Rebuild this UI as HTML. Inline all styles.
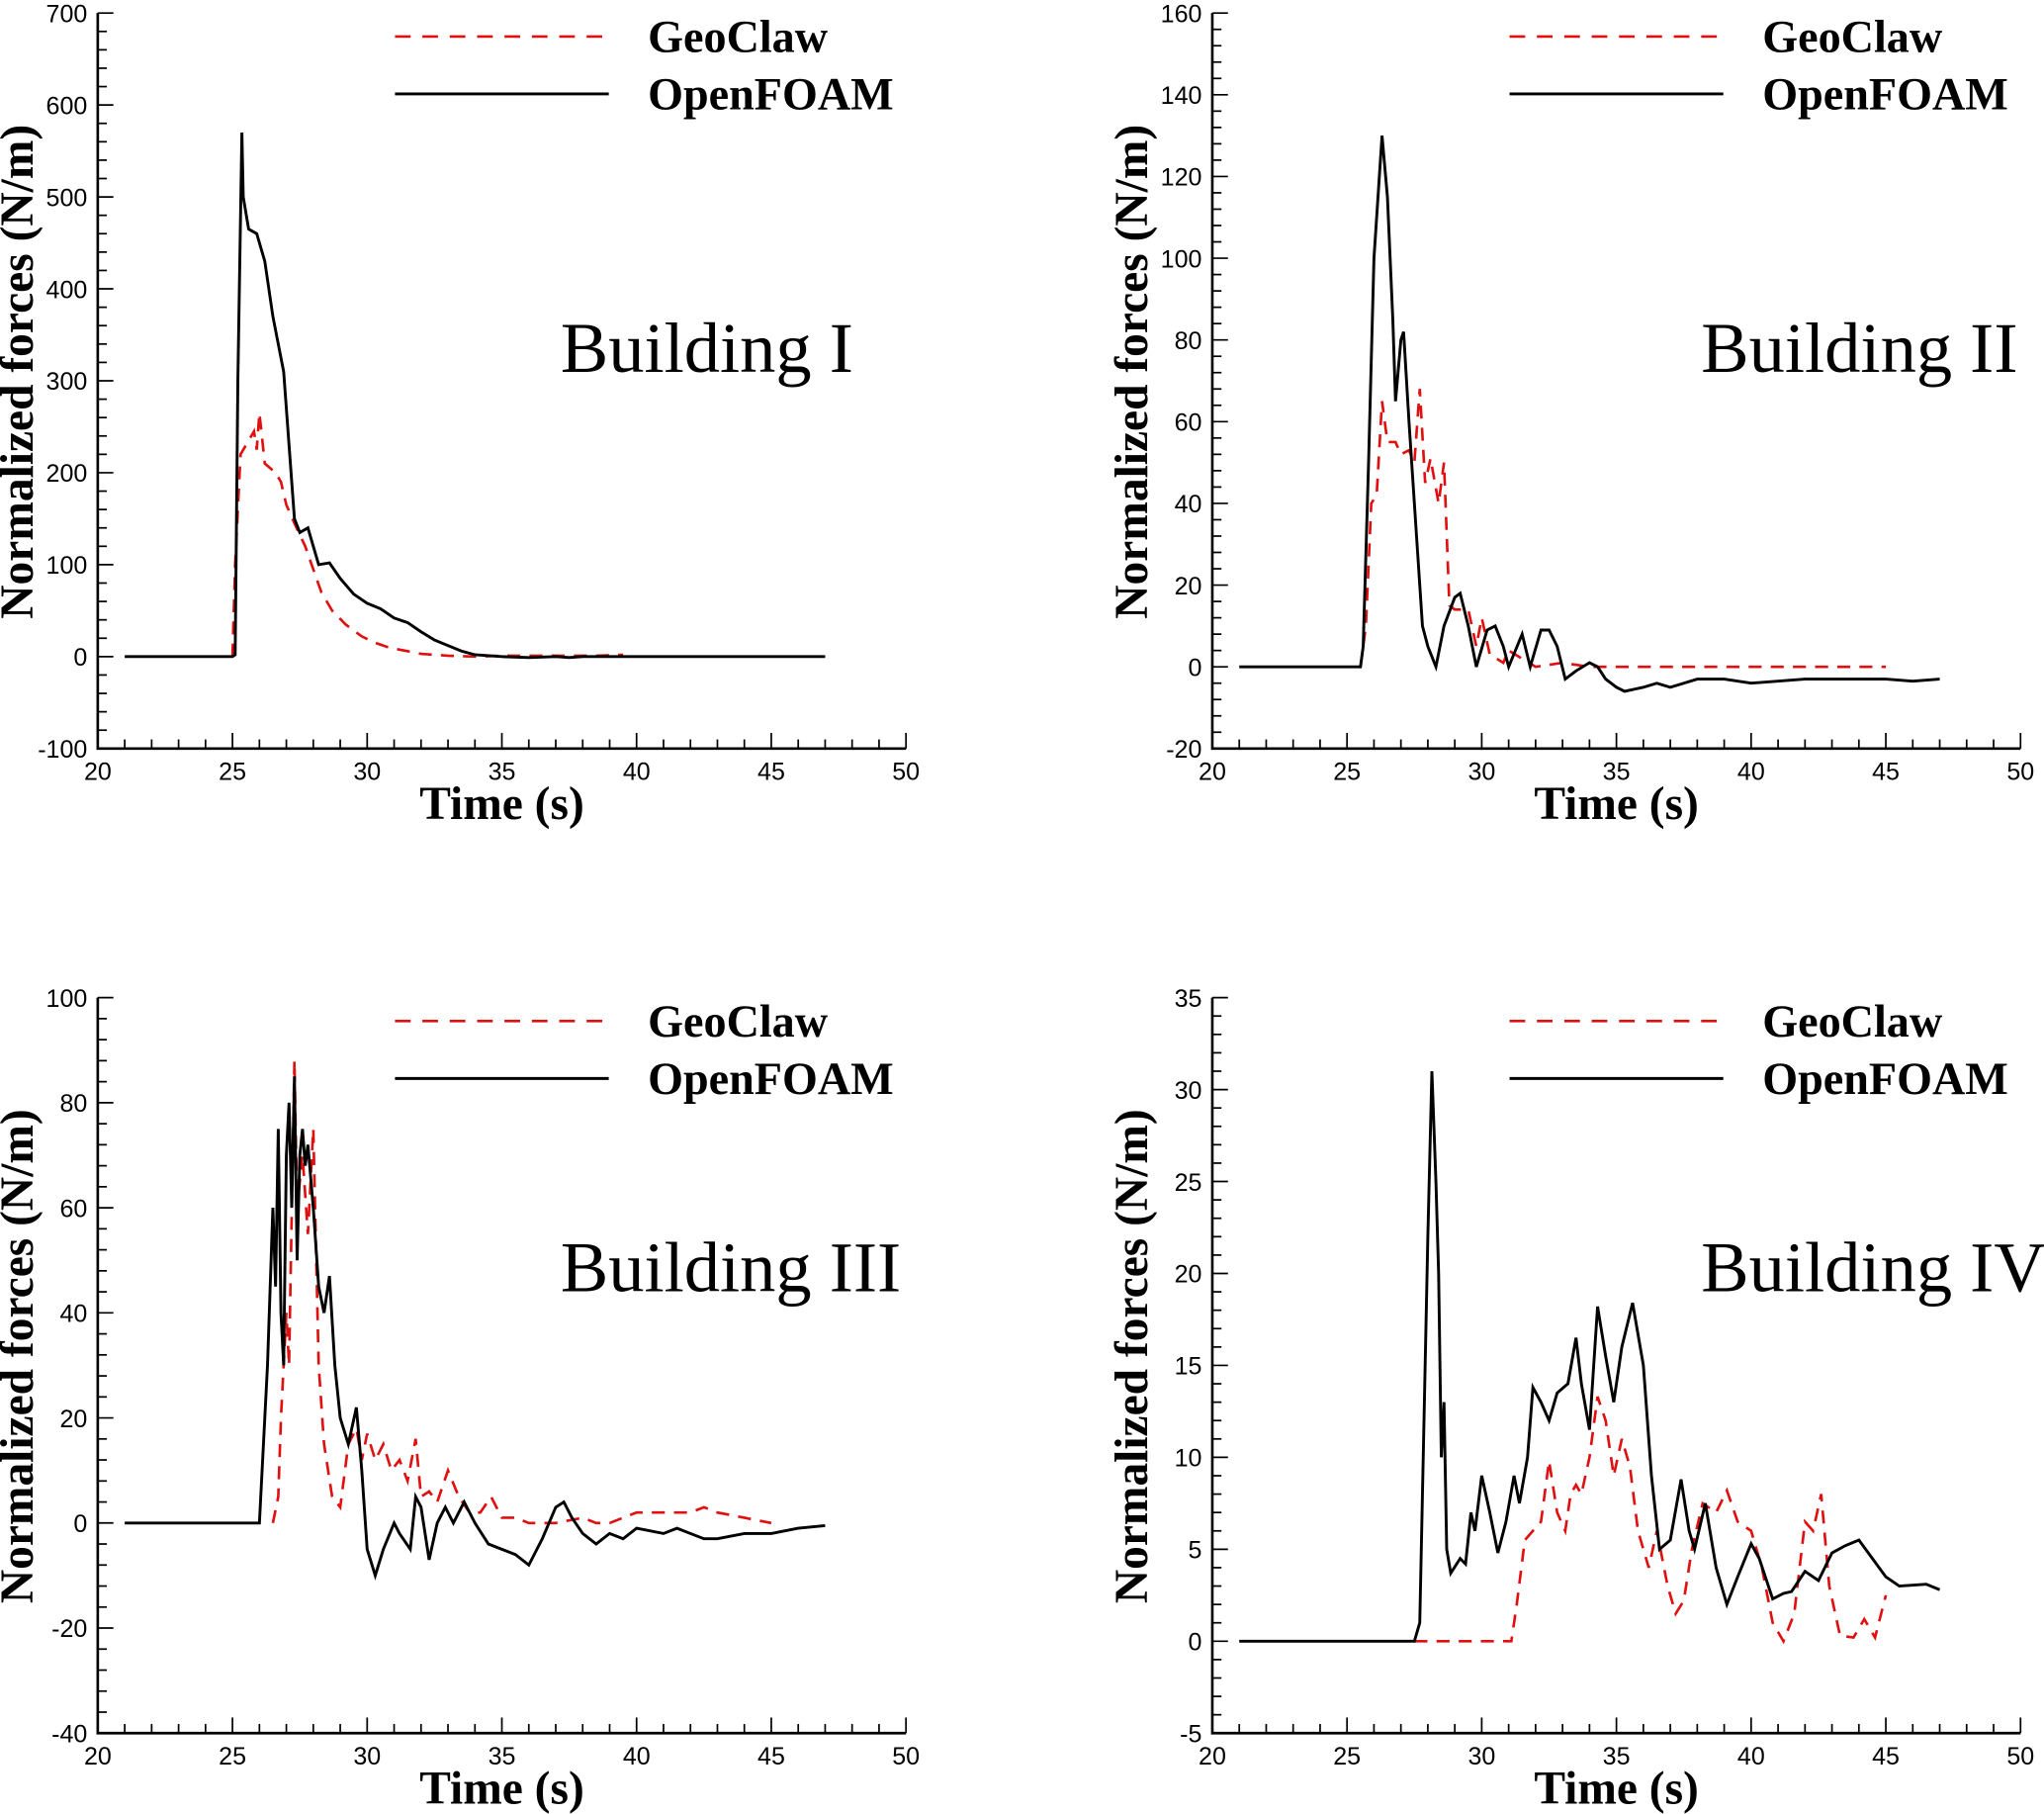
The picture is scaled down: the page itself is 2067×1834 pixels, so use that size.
<!DOCTYPE html>
<html><head><meta charset="utf-8"><style>
html,body{margin:0;padding:0;background:#fff;}
svg{display:block;}
.tk{font-family:"Liberation Sans",Arial,sans-serif;font-size:19px;fill:#000;}
.ttl{font-family:"Liberation Serif",serif;font-weight:bold;font-size:36px;fill:#000;}
.lg{font-family:"Liberation Serif",serif;font-weight:bold;font-size:35px;fill:#000;}
.bl{font-family:"Liberation Serif",serif;font-size:55px;fill:#000;}
</style></head><body>
<svg id="chart" width="2067" height="1834" viewBox="0 0 1568 1391" preserveAspectRatio="none" xmlns="http://www.w3.org/2000/svg"></svg>
<script>
// Panel data arrays
const p1Title = "Building I";
const p1Ticks = [-100,0,100,200,300,400,500,600,700];
const p1OfT = [21,25,25.1,25.2,25.35,25.4,25.6,25.9,26.2,26.5,26.9,27.3,27.5,27.8,28,28.2,28.6,29,29.5,30,30.5,31,31.5,32,32.5,33,33.5,34,35,36,37,37.5,38,47];
const p1OfV = [0,0,2,300,570,500,465,460,430,370,310,150,135,140,120,100,102,85,68,58,52,42,37,27,18,12,6,2,0,-1,0,-1,0,0];
const p1GcT = [25,25.1,25.3,25.5,25.8,25.9,26,26.2,26.4,26.6,26.8,27,27.3,27.7,28,28.3,28.7,29.2,29.8,30.3,30.8,31.3,32,33,34,35,37,38.5,39.5];
const p1GcV = [0,100,220,230,245,225,265,210,205,200,190,165,145,120,95,70,50,35,22,15,10,7,3,1,0,1,1,1,2];

const p2Title = "Building II";
const p2Ticks = [-20,0,20,40,60,80,100,120,140,160];
const p2OfT = [21,25.5,25.6,25.8,26,26.3,26.5,26.7,26.8,27,27.1,27.3,27.6,27.8,28,28.3,28.6,29,29.2,29.5,29.8,30.2,30.5,30.8,31,31.5,31.8,32.2,32.5,32.8,33.1,33.5,34,34.3,34.6,35,35.3,36,36.5,37,37.5,38,39,40,42,45,46,47];
const p2OfV = [0,0,5,50,100,130,115,85,65,80,82,60,30,10,5,0,10,17,18,10,0,9,10,5,0,8,0,9,9,5,-3,-1,1,0,-3,-5,-6,-5,-4,-5,-4,-3,-3,-4,-3,-3,-3.5,-3];
const p2GcT = [25.5,25.7,25.9,26.1,26.3,26.5,26.8,27,27.3,27.5,27.7,27.9,28.1,28.4,28.6,28.8,29,29.5,29.8,30,30.3,30.8,31,31.5,32,33,34,45];
const p2GcV = [0,10,40,42,65,55,55,52,53,50,68,45,51,40,50,15,14,14,5,12,3,1,4,2,0,1,0,0];

const p3Title = "Building III";
const p3Ticks = [-40,-20,0,20,40,60,80,100];
const p3OfT = [21,26,26.3,26.5,26.6,26.7,26.8,26.9,27,27.1,27.2,27.3,27.4,27.5,27.6,27.7,27.8,28,28.2,28.4,28.6,28.8,29,29.3,29.6,29.8,30,30.3,30.6,31,31.2,31.6,31.8,32,32.3,32.6,32.9,33.2,33.6,34,34.5,35,35.5,36,36.5,37,37.3,37.6,38,38.5,39,39.5,40,41,41.5,42,42.5,43,44,45,46,47];
const p3OfV = [0,0,30,60,45,75,40,30,70,80,60,85,50,70,75,68,72,60,45,40,47,30,20,15,22,10,-5,-10,-5,0,-2,-5,5,3,-7,0,3,0,4,0,-4,-5,-6,-8,-3,3,4,1,-2,-4,-2,-3,-1,-2,-1,-2,-3,-3,-2,-2,-1,-0.5];
const p3GcT = [26.5,26.7,26.8,27,27.1,27.3,27.4,27.6,27.8,28,28.2,28.4,28.7,29,29.3,29.6,29.8,30,30.3,30.6,30.9,31.2,31.5,31.8,32,32.3,32.6,33,33.4,33.8,34.2,34.6,35,35.5,36,37,38,38.5,39,40,41,42,42.5,43,44,45];
const p3GcV = [0,5,20,40,30,88,60,70,55,75,30,15,5,3,15,18,12,17,12,15,10,12,8,16,5,6,4,10,5,2,2,5,1,1,0,0,1,0,0,2,2,2,3,2,1,0];

const p4Title = "Building IV";
const p4Ticks = [-5,0,5,10,15,20,25,30,35];
const p4OfT = [21,27.5,27.7,27.9,28,28.15,28.3,28.4,28.5,28.6,28.7,28.85,29.2,29.4,29.6,29.75,30,30.3,30.6,30.9,31.2,31.4,31.7,31.9,32.2,32.5,32.8,33.2,33.5,33.7,34,34.3,34.6,34.9,35.2,35.6,36,36.3,36.6,37,37.4,37.7,37.9,38.3,38.7,39.1,39.5,40,40.3,40.8,41.2,41.5,42,42.5,43,43.5,44,44.5,45,45.5,46.5,47];
const p4OfV = [0,0,1,15,22,31,25,20,10,13,5,3.7,4.5,4.2,7,6,9,7,4.8,6.5,9,7.5,10,13.8,13,12,13.5,14,16.5,14,11.5,18.2,15.5,13,16,18.4,15,9,5,5.5,8.8,6,5,7.5,4,2,3.5,5.3,4.5,2.3,2.6,2.7,3.8,3.3,4.8,5.2,5.5,4.5,3.5,3,3.1,2.8];
const p4GcT = [27.5,31.1,31.3,31.6,31.9,32.2,32.5,32.8,33.1,33.3,33.5,33.7,34,34.3,34.6,34.9,35.2,35.5,35.8,36.2,36.5,36.9,37.2,37.5,37.8,38.2,38.7,39.1,39.5,40,40.4,40.8,41.2,41.6,42,42.3,42.6,42.9,43.3,43.8,44.2,44.6,45];
const p4GcV = [0,0,2,5.5,6,6.5,9.8,7,6,8,8.5,8,10,13.3,12,9,11,9.5,6,4,6,3,1.5,2.2,5,7.5,7,8.2,6.5,6,4,1,0,1.5,6.5,6,8,3,0.3,0.2,1.2,0.2,2.5];

const xTicks = [20,25,30,35,40,45,50];

const NS="http://www.w3.org/2000/svg";
const svg=document.getElementById('chart');
function mk(tag,attrs,parent){const e=document.createElementNS(NS,tag);for(const k in attrs)e.setAttribute(k,attrs[k]);(parent||svg).appendChild(e);return e;}

function panel(ox,oy,ticks,title,ofT,ofV,gcT,gcV,idx,lx,ly){
  const L=ox+75,R=ox+695,T=oy+10,B=oy+574;
  const ymin=ticks[0],ymax=ticks[ticks.length-1];
  const xs=t=>L+(t-20)/30*(R-L);
  const ys=v=>B-(v-ymin)/(ymax-ymin)*(B-T);
  const g=mk('g',{});
  
  
  const ax=mk('path',{d:`M${L},${T}L${L},${B}L${R},${B}`,stroke:'#000','stroke-width':2,fill:'none'},g);
  
  
  for(let t=20;t<=50;t++){
    const maj=(t%5===0);
    mk('line',{x1:xs(t),x2:xs(t),y1:B,y2:B-(maj?12:7),stroke:'#000','stroke-width':1.3},g);
  }
  xTicks.forEach(t=>{
    const tx=mk('text',{x:xs(t),y:B+24,'text-anchor':'middle',class:'tk'},g);
    tx.textContent=t;
    
    
  });
  const step=ticks[1]-ticks[0];
  for(let i=0;i<ticks.length;i++){
    const v=ticks[i];
    mk('line',{x1:L,x2:L+12,y1:ys(v),y2:ys(v),stroke:'#000','stroke-width':1.3},g);
    if(i<ticks.length-1)for(let k=1;k<5;k++){const vv=v+step*k/5;mk('line',{x1:L,x2:L+7,y1:ys(vv),y2:ys(vv),stroke:'#000','stroke-width':1.3},g);}
    const tx=mk('text',{x:L-8,y:ys(v)+7,'text-anchor':'end',class:'tk'},g);
    tx.textContent=v;
    
    
  }
  const xt=mk('text',{x:ox+385,y:oy+628,'text-anchor':'middle',class:'ttl'},g);
  xt.textContent='Time (s)';
  
  
  const yt=mk('text',{x:0,y:0,'text-anchor':'middle',class:'ttl',transform:`translate(${ox+25},${oy+285}) rotate(-90)`,'xml:space':'preserve'},g);
  yt.textContent='Normalized  forces  (N/m)';
  
  
  const bt=mk('text',{x:lx,y:ly,class:'bl'},g);
  bt.textContent=title;
  
  
  const gc=mk('polyline',{points:gcT.map((t,i)=>xs(t)+','+ys(gcV[i])).join(' '),fill:'none',stroke:'#e01010','stroke-width':2,'stroke-dasharray':'10,7'},g);
  
  
  const of=mk('polyline',{points:ofT.map((t,i)=>xs(t)+','+ys(ofV[i])).join(' '),fill:'none',stroke:'#000','stroke-width':2.2},g);
  
  
  const lg=mk('g',{},g);
  
  
  mk('line',{x1:ox+303,x2:ox+467,y1:oy+28,y2:oy+28,stroke:'#e01010','stroke-width':2,'stroke-dasharray':'12,9'},lg);
  const l1=mk('text',{x:ox+497,y:oy+40,class:'lg'},lg);
  l1.textContent='GeoClaw';
  
  
  mk('line',{x1:ox+303,x2:ox+467,y1:oy+72,y2:oy+72,stroke:'#000','stroke-width':2.2},lg);
  const l2=mk('text',{x:ox+497,y:oy+84,class:'lg'},lg);
  l2.textContent='OpenFOAM';
  
  
}
panel(0,0,p1Ticks,p1Title,p1OfT,p1OfV,p1GcT,p1GcV,1,430,285);
panel(855,0,p2Ticks,p2Title,p2OfT,p2OfV,p2GcT,p2GcV,2,1305,285);
panel(0,755,p3Ticks,p3Title,p3OfT,p3OfV,p3GcT,p3GcV,3,430,990);
panel(855,755,p4Ticks,p4Title,p4OfT,p4OfV,p4GcT,p4GcV,4,1305,990);
</script>
</body></html>
